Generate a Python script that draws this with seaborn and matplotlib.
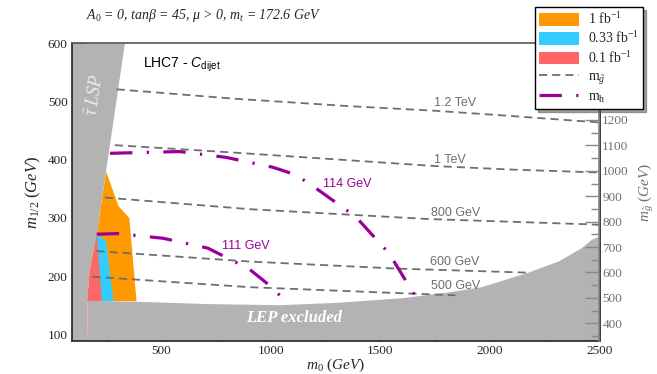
import seaborn as sns
import matplotlib.pyplot as plt
from matplotlib.lines import Line2D
from matplotlib.patches import Patch

# --- regions in (m0, m1/2) plane, GeV ---
stau_m0 = [90, 333, 204, 173, 161, 161, 90]
stau_m12 = [600, 600, 271, 212, 158, 89, 89]

lep_m0 = [90, 386, 700, 1040, 1300, 1600, 1812, 1963, 2176, 2313, 2419, 2464, 2500, 2500, 90]
lep_m12 = [158, 156, 152, 150, 154, 162, 172, 181, 206, 225, 248, 262, 268, 89, 89]

orange_m0 = [247, 304, 353, 386, 161, 173, 204]
orange_m12 = [380, 320, 300, 157, 157, 212, 271]
cyan_m0 = [204, 247, 281, 227]
cyan_m12 = [271, 261, 157, 157]
red_m0 = [204, 227, 161, 173]
red_m12 = [271, 157, 157, 212]

# --- gluino mass contours ---
gluino_labels = ["1.2 TeV", "1 TeV", "800 GeV", "600 GeV", "500 GeV"]
gluino_m0 = [
    [295, 825, 1357, 1753, 2100, 2500],
    [287, 800, 1357, 1753, 2100, 2500],
    [242, 902, 1721, 2449, 2500],
    [203, 902, 1569, 2168],
    [185, 902, 1500, 1842],
]
gluino_m12 = [
    [521, 505, 492, 484, 475, 464],
    [425, 413, 399, 389, 383, 378],
    [335, 315, 298, 289, 288],
    [243, 225, 213, 206],
    [199, 181, 172, 167],
]
gluino_lab_m0 = [1841, 1819, 1841, 1841, 1841]
gluino_lab_m12 = [497, 400, 308, 225, 183]

# --- light higgs mass contours ---
higgs_labels = ["114 GeV", "111 GeV"]
higgs_m0 = [
    [265, 583, 795, 1008, 1114, 1205, 1387, 1539, 1660],
    [204, 302, 507, 712, 901, 1000, 1069],
]
higgs_m12 = [
    [411, 414, 404, 387, 374, 351, 302, 239, 165],
    [272, 273, 265, 248, 212, 182, 156],
]
higgs_lab_m0 = [1349, 885]
higgs_lab_m12 = [358, 252]

# right axis: gluino mass vs m1/2 (approx. linear)
def mgluino(m12):
    return 400 + 2.29 * (m12 - 118.9)

GRAY = "#b3b3b3"
ORANGE = "#ff9900"
CYAN = "#33ccff"
RED = "#ff6666"
PURPLE = "#990099"
DGRAY = "#6e6e6e"

sns.set_theme(style="white")
plt.rcParams["font.family"] = ["Liberation Serif", "DejaVu Serif"]
plt.rcParams["mathtext.fontset"] = "custom"
plt.rcParams["mathtext.rm"] = "Liberation Serif"
plt.rcParams["mathtext.it"] = "Liberation Serif:italic"
plt.rcParams["mathtext.bf"] = "Liberation Serif:bold"
plt.rcParams["mathtext.sf"] = "Liberation Sans:italic"
plt.rcParams["mathtext.tt"] = "Liberation Sans"

fig = plt.figure(figsize=(6.57, 3.74), dpi=100)
ax = fig.add_axes([71.7 / 657, 1 - 340.7 / 374, (599.5 - 71.7) / 657, (340.7 - 43.3) / 374])

# filled regions
ax.fill(orange_m0, orange_m12, color=ORANGE, lw=0, zorder=1)
ax.fill(cyan_m0, cyan_m12, color=CYAN, lw=0, zorder=1.1)
ax.fill(red_m0, red_m12, color=RED, lw=0, zorder=1.2)
ax.fill(lep_m0, lep_m12, color=GRAY, lw=0, zorder=1.5)
ax.fill(stau_m0, stau_m12, color=GRAY, lw=0, zorder=1.6)
ax.plot([159, 159], [100, 158], color="#ffaaaa", lw=0.8, zorder=1.7)

# gluino contours
for xs, ys in zip(gluino_m0, gluino_m12):
    sns.lineplot(x=xs, y=ys, sort=False, estimator=None, ax=ax, color=DGRAY,
                 lw=1.3, linestyle=(0, (4.5, 2.8)), legend=False, zorder=2)
for lab, x, y in zip(gluino_labels, gluino_lab_m0, gluino_lab_m12):
    ax.text(x, y, lab, color=DGRAY, fontsize=9, family="Liberation Sans",
            ha="center", va="center", zorder=3)

# higgs contours
for xs, ys in zip(higgs_m0, higgs_m12):
    sns.lineplot(x=xs, y=ys, sort=False, estimator=None, ax=ax, color=PURPLE,
                 lw=2.3, linestyle=(0, (7, 4.5, 0.7, 4.5)), legend=False, zorder=2.2)
for lab, x, y in zip(higgs_labels, higgs_lab_m0, higgs_lab_m12):
    ax.text(x, y, lab, color=PURPLE, fontsize=9, family="Liberation Sans",
            ha="center", va="center", zorder=3)

ax.text(415, 563, r"LHC7 - $\mathsf{C}_{\mathtt{dijet}}$", fontsize=10,
        family="Liberation Sans", ha="left", va="center", color="black")
ax.text(200, 512, r"$\tilde{\tau}$ LSP", fontsize=13, style="italic",
        color="#eeeeee", rotation=81, ha="center", va="center", zorder=3)
ax.text(1106, 128, "LEP excluded", fontsize=12, style="italic", weight="bold",
        color="white", ha="center", va="center", zorder=3)

ax.set_xlim(90, 2500)
ax.set_ylim(89, 600)
ax.set_xticks([500, 1000, 1500, 2000, 2500])
ax.set_xticks(range(250, 2500, 250), minor=True)
ax.set_yticks([100, 200, 300, 400, 500, 600])
ax.set_yticks(range(150, 600, 100), minor=True)
ax.tick_params(which="major", direction="in", length=9, width=1, color="#222222",
               labelsize=9.5, pad=3, bottom=True, left=True)
ax.tick_params(which="minor", direction="in", length=5, width=1, color="#222222",
               bottom=True, left=True)
for s in ["left", "bottom"]:
    ax.spines[s].set_color("#222222")
    ax.spines[s].set_linewidth(1.2)
ax.spines["top"].set_color("#555555")
ax.spines["top"].set_linewidth(1.2)
ax.set_xlabel(r"$m_0$ $(GeV)$", fontsize=11, labelpad=0)
ax.set_ylabel(r"$m_{1/2}$ $(GeV)$", fontsize=12, labelpad=3)

ax2 = ax.twinx()
ax2.set_ylim(mgluino(89), mgluino(600))
ax2.set_yticks(range(400, 1300, 100))
ax2.set_yticks(range(350, 1300, 100), minor=True)
ax2.tick_params(which="major", direction="in", length=10, width=1, color="#888888",
                labelcolor="#707070", labelsize=9.5, pad=2, right=True)
ax2.tick_params(which="minor", direction="in", length=6, width=1, color="#888888", right=True)
ax2.spines["right"].set_color("#888888")
ax2.spines["right"].set_linewidth(1.2)
for s in ["left", "bottom", "top"]:
    ax2.spines[s].set_visible(False)
ax2.set_ylabel(r"$m_{\tilde{g}}$ $(GeV)$", fontsize=11, color="#707070", labelpad=6)

fig.text(0.31, 0.958, r"$A_0$ = 0, $tan$β = 45, μ > 0, $m_t$ = 172.6 GeV",
         fontsize=10, style="italic", ha="center", va="center")

handles = [
    Patch(facecolor=ORANGE, edgecolor="none"),
    Patch(facecolor=CYAN, edgecolor="none"),
    Patch(facecolor=RED, edgecolor="none"),
    Line2D([], [], color=DGRAY, lw=1.3, linestyle=(0, (4.5, 2.8))),
    Line2D([], [], color=PURPLE, lw=2.3, linestyle=(0, (7, 4.5, 0.7, 4.5))),
]
labels = [r"1 fb$^{-1}$", r"0.33 fb$^{-1}$", r"0.1 fb$^{-1}$",
          r"m$_{\tilde{g}}$", r"m$_{\mathrm{h}}$"]
leg = ax2.legend(handles, labels, loc="upper right",
                 bbox_to_anchor=(643 / 657, 1 - 7 / 374), bbox_transform=fig.transFigure,
                 fontsize=10, frameon=True, fancybox=False, shadow=True,
                 edgecolor="black", framealpha=1, handlelength=2.9, handleheight=1.0,
                 labelspacing=0.25, borderpad=0.3, handletextpad=0.6, borderaxespad=0)
leg.get_frame().set_linewidth(1.0)
leg.set_zorder(10)

fig.savefig("out.png", dpi=100)
